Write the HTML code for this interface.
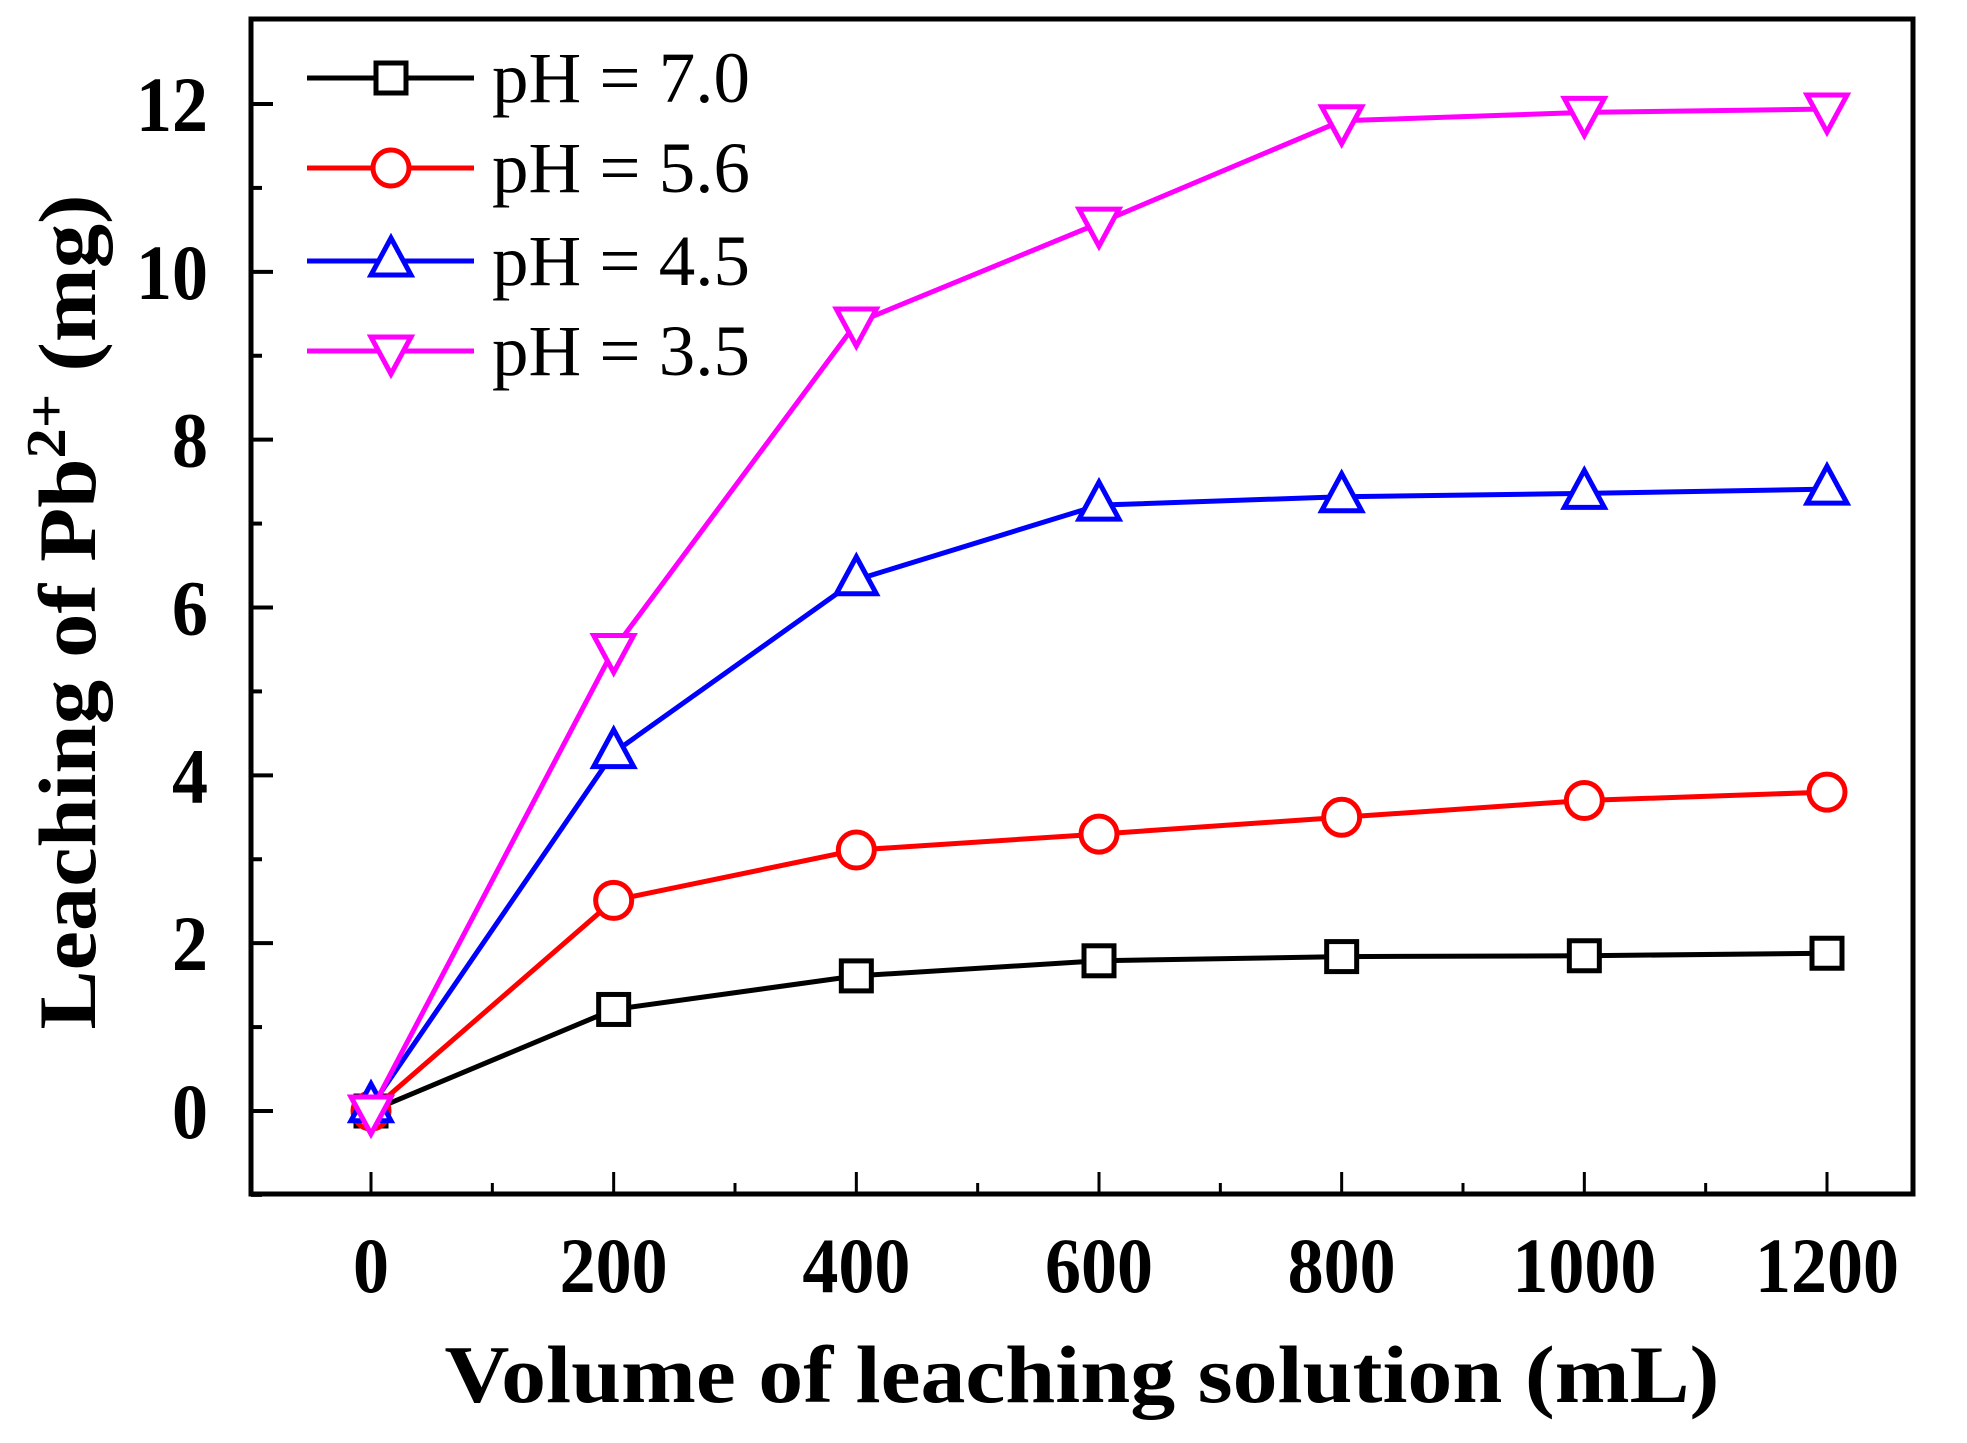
<!DOCTYPE html>
<html><head><meta charset="utf-8"><style>
html,body{margin:0;padding:0;background:#fff}
svg{display:block}
text{font-family:"Liberation Serif",serif}
</style></head><body>
<svg id="chart" width="1967" height="1443" viewBox="0 0 1967 1443" xmlns="http://www.w3.org/2000/svg">
<rect x="251" y="19" width="1662" height="1175" fill="none" stroke="#000" stroke-width="5"/>
<g id="ticks"></g>
<g id="series"></g>
<text x="1082" y="1402" text-anchor="middle" font-weight="bold" font-size="82" textLength="1275" lengthAdjust="spacingAndGlyphs">Volume of leaching solution (mL)</text>
<text transform="translate(95,612) rotate(-90)" text-anchor="middle" font-weight="bold" font-size="82" textLength="835" lengthAdjust="spacingAndGlyphs">Leaching of Pb<tspan dy="-30" font-size="56">2+</tspan><tspan dy="30"> (mg)</tspan></text>
<g id="legend"></g>
</svg>
<script>
const categories=[0,200,400,600,800,1000,1200];
const seriesNames=["pH = 7.0","pH = 5.6","pH = 4.5","pH = 3.5"];
const ph70=[0,1.21,1.61,1.79,1.84,1.85,1.88];
const ph56=[0,2.51,3.11,3.3,3.5,3.7,3.8];
const ph45=[0.05,4.27,6.33,7.22,7.32,7.36,7.41];
const ph35=[0,5.5,9.39,10.58,11.8,11.9,11.94];
const xTicks=[0,200,400,600,800,1000,1200];
const yTicks=[0,2,4,6,8,10,12];
const NS="http://www.w3.org/2000/svg";
const L=251,R=1913,T=19,B=1194;
function xs(v){return 371+(v-0)*(1827-371)/1200;}
function ys(v){return 1111-v*(1111-104)/12;}
function mk(tag,attrs,parent){const e=document.createElementNS(NS,tag);for(const k in attrs)e.setAttribute(k,attrs[k]);parent.appendChild(e);return e;}
const tg=document.getElementById('ticks');
xTicks.forEach(v=>{
 const t=mk('line',{x1:xs(v),x2:xs(v),y1:B,y2:B-22,stroke:'#000','stroke-width':3},tg);
 
 
 const tl=mk('text',{x:xs(v),y:1292,'text-anchor':'middle','font-weight':'bold','font-size':78,textLength:String(v).length*36,lengthAdjust:'spacingAndGlyphs'},tg);
 
 
 tl.textContent=v;
});
for(let i=0;i<xTicks.length-1;i++){
 const m=(xTicks[i]+xTicks[i+1])/2;
 const t=mk('line',{x1:xs(m),x2:xs(m),y1:B,y2:B-11,stroke:'#000','stroke-width':3},tg);
 
 
}
yTicks.forEach(v=>{
 const t=mk('line',{x1:L,x2:L+22,y1:ys(v),y2:ys(v),stroke:'#000','stroke-width':4},tg);
 
 
 const tl=mk('text',{x:208,y:ys(v)+27,'text-anchor':'end','font-weight':'bold','font-size':78,textLength:String(v).length*36,lengthAdjust:'spacingAndGlyphs'},tg);
 
 
 tl.textContent=v;
});
[-1,1,3,5,7,9,11].forEach(v=>{
 const t=mk('line',{x1:L,x2:L+11,y1:ys(v),y2:ys(v),stroke:'#000','stroke-width':4},tg);
 
 
});
const colors=['#000','#f00','#00f','#f0f'];
const shapes=['square','circle','up','down'];
const data=[ph70,ph56,ph45,ph35];
function marker(shape,cx,cy,color,parent){
 let e;
 if(shape==='square')e=mk('rect',{x:cx-15,y:cy-15,width:30,height:30},parent);
 else if(shape==='circle')e=mk('circle',{cx:cx,cy:cy,r:18},parent);
 else if(shape==='up')e=mk('polygon',{points:`${cx},${cy-23} ${cx-20},${cy+14} ${cx+20},${cy+14}`},parent);
 else e=mk('polygon',{points:`${cx},${cy+23} ${cx-20},${cy-14} ${cx+20},${cy-14}`},parent);
 e.setAttribute('fill','#fff');e.setAttribute('stroke',color);e.setAttribute('stroke-width',5);
 return e;
}
const sg=document.getElementById('series');
data.forEach((arr,si)=>{
 const g=mk('g',{},sg);
 
 
 const pl=mk('polyline',{points:arr.map((v,i)=>xs(categories[i])+','+ys(v)).join(' '),fill:'none',stroke:colors[si],'stroke-width':5},g);
 
 
 arr.forEach((v,i)=>{
  const m=marker(shapes[si],xs(categories[i]),ys(v),colors[si],g);
  
  
 });
});
const lg=document.getElementById('legend');
const ly=[78,168,261,351];
seriesNames.forEach((n,i)=>{
 const g=mk('g',{},lg);
 
 
 mk('line',{x1:307,x2:474,y1:ly[i],y2:ly[i],stroke:colors[i],'stroke-width':5},g);
 marker(shapes[i],391,ly[i],colors[i],g);
 const t=mk('text',{x:492,y:ly[i]+24,'font-size':72,textLength:258,lengthAdjust:'spacingAndGlyphs'},g);
 
 
 t.textContent=n;
});
</script>
</body></html>
